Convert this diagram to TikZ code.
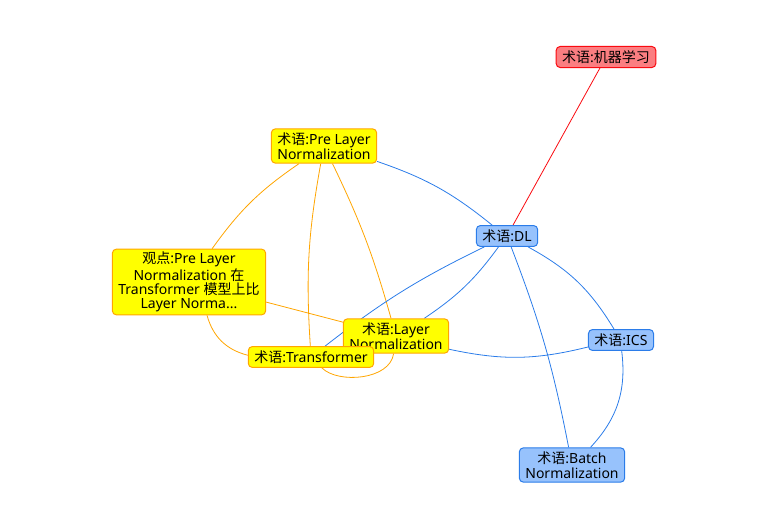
\documentclass[tikz,border=0pt]{standalone}
\usepackage{fontspec}
\setmainfont{Noto Sans}
\newfontfamily\cjk{Noto Sans CJK SC}
\usepackage{xcolor}
\usetikzlibrary{backgrounds}
\definecolor{termyellow}{HTML}{FFFF00}
\definecolor{termorange}{HTML}{FFA500}
\definecolor{termblue}{HTML}{97C2FC}
\definecolor{edgeblue}{HTML}{2B7CE9}
\definecolor{termred}{HTML}{FB7E81}
\definecolor{edgered}{HTML}{FA0A10}
\newcommand{\zh}[1]{{\cjk #1}}

\begin{document}
\begin{tikzpicture}[x=0.75pt, y=0.75pt,
    every node/.style={font=\fontsize{10.5}{10.8}\selectfont, align=center, rounded corners=3pt, inner xsep=4.5pt, inner ysep=3pt, line width=0.75pt},
    yellowbox/.style={draw=termorange, fill=termyellow},
    bluebox/.style={draw=edgeblue, fill=termblue},
    redbox/.style={draw=edgered, fill=termred},
    orangeedge/.style={draw=termorange, line width=0.6pt},
    blueedge/.style={draw=edgeblue, line width=0.6pt},
    rededge/.style={draw=edgered, line width=0.6pt}]
        \path[use as bounding box] (0,0) rectangle (778,-524);

        % Terms
        \node[redbox] (ml) at (606,-57) {\zh{术语}:\zh{机器学习}};
        \node[yellowbox] (preln) at (324,-146) {\zh{术语}:Pre Layer\\Normalization};
        \node[bluebox] (dl) at (507,-236) {\zh{术语}:DL};
        \node[yellowbox, inner ysep=2pt] (view) at (189,-282) {\zh{观点}:Pre Layer\\Normalization \zh{在}\\Transformer \zh{模型上比}\\Layer Norma...};
        \node[yellowbox] (ln) at (396,-336) {\zh{术语}:Layer\\Normalization};
        \node[yellowbox] (tr) at (311,-357) {\zh{术语}:Transformer};
        \node[bluebox] (ics) at (621,-340) {\zh{术语}:ICS};
        \node[bluebox] (bn) at (572,-465) {\zh{术语}:Batch\\Normalization};

        % Edges
        \begin{scope}[on background layer]
        \draw[rededge] (ml) -- (dl);
        \draw[blueedge] (preln) to[bend left=10] (dl);
        \draw[orangeedge] (preln) to[bend right=10] (view);
        \draw[orangeedge] (preln) to[bend right=7] (tr);
        \draw[orangeedge] (preln) to[bend left=5] (ln);
        \draw[orangeedge] (view) -- (ln);
        \draw[orangeedge] (view) to[bend right=30] (tr);
        \draw[orangeedge] (ln) .. controls (390,-380) and (338,-384) .. (tr);
        \draw[blueedge] (dl) to[bend right=6] (tr);
        \draw[blueedge] (dl) to[bend left=10] (ln);
        \draw[blueedge] (dl) to[bend left=5] (bn);
        \draw[blueedge] (dl) to[bend left=15] (ics);
        \draw[blueedge] (ln) to[bend right=13] (ics);
        \draw[blueedge] (ics) to[bend left=25] (bn);
        \end{scope}
    \end{tikzpicture}
\end{document}
